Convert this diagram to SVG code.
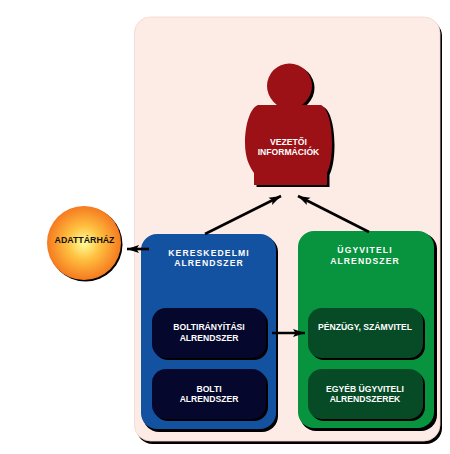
<svg xmlns="http://www.w3.org/2000/svg" width="450" height="454" viewBox="0 0 450 454">
<style>
text{font-family:"Liberation Sans",Arial,sans-serif;font-weight:bold;font-size:8.6px;text-anchor:middle;fill:#fff}
.wide{letter-spacing:1.1px}
.conn{stroke:#000;stroke-width:2.6;fill:none;marker-end:url(#ah)}
</style>
<defs>
<marker id="ah" markerUnits="userSpaceOnUse" markerWidth="13" markerHeight="9" refX="12" refY="4.500" orient="auto"><path d="M0 0.500L12 4.500L0 8.500L2.500 4.500Z" fill="#000"/></marker>
<radialGradient id="sun" cx="0.5" cy="0.5" r="0.5"><stop offset="0" stop-color="#ffff99"/><stop offset="0.45" stop-color="#ffc040"/><stop offset="1" stop-color="#f57a20"/></radialGradient>
<path id="torso" d="M258 105H321C328 108 332 125 332 143C332 157 330 167 327 173V185H254V173C249 166 245 157 245 143C245 125 250 108 258 105Z"/>
</defs>
<rect width="450" height="454" fill="#fff"/>
<g id="panel">
<rect x="136.500" y="20" width="305.500" height="424" rx="16" fill="#000"/>
<rect x="134.500" y="17" width="305.500" height="424" rx="16" fill="#fdece5" stroke="#f3d5d0" stroke-width="0.800"/>
</g>
<g id="vezetoi">
<g fill="#000" transform="translate(2.500,2)">
<circle cx="289.500" cy="86" r="22.500"/>
<use href="#torso"/>
</g>
<g fill="#9c1116">
<circle cx="289.500" cy="86" r="22.500"/>
<use href="#torso"/>
</g>
<text x="288.500" y="144.500">VEZETŐI</text>
<text x="288.500" y="154.500">INFORMÁCIÓK</text>
</g>
<g id="adattarhaz">
<circle cx="85.500" cy="244.500" r="37" fill="#000"/>
<circle cx="84" cy="243" r="37" fill="url(#sun)"/>
<text x="84.500" y="243" style="fill:#111;font-size:8.800px">ADATTÁRHÁZ</text>
</g>
<g id="kereskedelmi">
<rect x="143" y="236" width="135" height="196" rx="16" fill="#000"/>
<rect x="141" y="234" width="135" height="195" rx="16" fill="#1351a1"/>
<text class="wide" x="209" y="256">KERESKEDELMI</text>
<text class="wide" x="209" y="266">ALRENDSZER</text>
</g>
<g id="ugyviteli">
<rect x="300" y="233" width="137" height="198" rx="16" fill="#000"/>
<rect x="298" y="231" width="136" height="197" rx="16" fill="#08933e"/>
<text class="wide" x="365" y="253">ÜGYVITELI</text>
<text class="wide" x="365" y="264">ALRENDSZER</text>
</g>
<g id="boltiranyitasi">
<rect x="154" y="310" width="114" height="50" rx="14" fill="#000"/>
<rect x="152" y="308" width="114" height="50" rx="14" fill="#05072c"/>
<text x="209" y="330">BOLTIRÁNYÍTÁSI</text>
<text x="209" y="341">ALRENDSZER</text>
</g>
<g id="bolti">
<rect x="154" y="371" width="114" height="50" rx="14" fill="#000"/>
<rect x="152" y="369" width="114" height="50" rx="14" fill="#05072c"/>
<text x="209" y="391.500">BOLTI</text>
<text x="209" y="402">ALRENDSZER</text>
</g>
<g id="penzugy">
<rect x="310" y="310" width="115" height="50" rx="14" fill="#000"/>
<rect x="308" y="308" width="115" height="50" rx="14" fill="#064a26"/>
<text x="365" y="330">PÉNZÜGY, SZÁMVITEL</text>
</g>
<g id="egyeb">
<rect x="310" y="371" width="115" height="50" rx="14" fill="#000"/>
<rect x="308" y="369" width="115" height="50" rx="14" fill="#064a26"/>
<text x="365" y="391.500">EGYÉB ÜGYVITELI</text>
<text x="365" y="402">ALRENDSZEREK</text>
</g>
<g id="connectors">
<path class="conn" d="M205 234L281 196"/>
<path class="conn" d="M369 232L298 196"/>
<path class="conn" d="M149 249H127"/>
<path class="conn" d="M272 333H305"/>
</g>
</svg>
